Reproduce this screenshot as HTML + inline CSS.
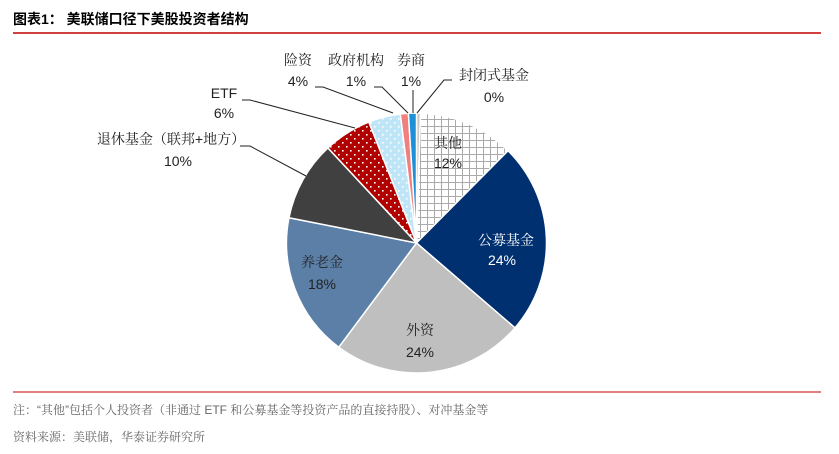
<!DOCTYPE html>
<html><head><meta charset="utf-8"><style>
body{margin:0;background:#fff;}
svg{display:block;font-family:"Liberation Sans","Noto Serif CJK SC",serif;}
</style></head><body>
<svg width="839" height="454">
<defs>
<pattern id="grid" width="7" height="7" patternUnits="userSpaceOnUse"><rect width="7" height="7" fill="#fff"/><path d="M0 0.5H7M0.5 0V7" stroke="#aaa" stroke-width="1"/></pattern>
<pattern id="reddot" width="8" height="8" patternUnits="userSpaceOnUse"><rect width="8" height="8" fill="#b00000"/><rect x="2" y="2" width="1.6" height="1.6" fill="#fff"/><rect x="6" y="6" width="1.6" height="1.6" fill="#fff"/></pattern>
<pattern id="bluedot" width="8" height="8" patternUnits="userSpaceOnUse"><rect width="8" height="8" fill="#bfe6f8"/><rect x="2" y="2" width="1.6" height="1.6" fill="#fff"/><rect x="6" y="6" width="1.6" height="1.6" fill="#fff"/></pattern>
</defs>
<text x="13" y="24" font-size="14" font-weight="bold" font-family="'Liberation Sans','Noto Sans CJK SC',sans-serif">图表1：  美联储口径下美股投资者结构</text>
<line x1="13" y1="33" x2="821" y2="33" stroke="#c00000" stroke-width="1.5"/>
<g id="pie"></g>
<g font-size="14" fill="#222" text-anchor="middle">
<text x="298" y="65">险资</text><text x="298" y="86">4%</text>
<text x="356" y="65">政府机构</text><text x="356" y="86">1%</text>
<text x="411" y="65">券商</text><text x="411" y="86">1%</text>
<text x="494" y="80">封闭式基金</text><text x="494" y="102">0%</text>
<text x="224" y="98">ETF</text><text x="224" y="118">6%</text>
<text x="171" y="144">退休基金（联邦+地方）</text><text x="178" y="166">10%</text>
<text x="448" y="148">其他</text><text x="448" y="168">12%</text>
<text x="506" y="245" fill="#fff">公募基金</text><text x="502" y="265" fill="#fff">24%</text>
<text x="420" y="335">外资</text><text x="420" y="357">24%</text>
<text x="322" y="267">养老金</text><text x="322" y="289">18%</text>
</g>
<g stroke="#222" stroke-width="1" fill="none">
<polyline points="315,87 323,87 393,113"/>
<polyline points="374,87 382,87 408,113"/>
<polyline points="413,90 413,113"/>
<polyline points="452,80 444,80 417,113"/>
<polyline points="242,100 250,100 355,128"/>
<polyline points="240,146 250,146 306,176"/>
</g>
<line x1="13" y1="392" x2="821" y2="392" stroke="#c00000" stroke-width="1"/>
<text x="13" y="414" font-size="12" fill="#666">注：“其他”包括个人投资者（非通过 ETF 和公募基金等投资产品的直接持股）、对冲基金等</text>
<text x="13" y="441" font-size="12" fill="#666">资料来源：美联储，华泰证券研究所</text>
</svg>
<script>
const categories=["封闭式基金","其他","公募基金","外资","养老金","退休基金","ETF","险资","政府机构","券商"];
const values=[0.5,12,24,24,18,10,6,4,1,1];
const fills=["#c8c8c8","url(#grid)","#003070","#bfbfbf","#5b7fa6","#404040","url(#reddot)","url(#bluedot)","#f08080","#1e90d8"];
const cx=416.5,cy=243,r=130;
const g=document.getElementById('pie');
const total=values.reduce((a,b)=>a+b,0);
let a0=0;
function pt(a){return [cx+r*Math.sin(a),cy-r*Math.cos(a)];}
values.forEach((v,i)=>{
 const a1=a0+v/total*2*Math.PI;
 const p0=pt(a0),p1=pt(a1);
 const large=(a1-a0)>Math.PI?1:0;
 const p=document.createElementNS('http://www.w3.org/2000/svg','path');
 p.setAttribute('d',`M${cx},${cy}L${p0[0]},${p0[1]}A${r},${r} 0 ${large} 1 ${p1[0]},${p1[1]}Z`);
 p.setAttribute('fill',fills[i]);
 p.setAttribute('stroke','#fff');
 p.setAttribute('stroke-width','1.5');
 
 
 g.appendChild(p);
 a0=a1;
});
</script>
</body></html>
